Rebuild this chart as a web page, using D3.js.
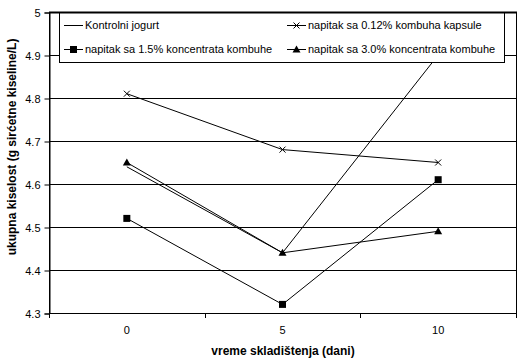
<!DOCTYPE html>
<html>
<head>
<meta charset="utf-8">
<script src="https://cdn.jsdelivr.net/npm/d3@7"></script>
<style>
  body { margin: 0; background: #fff; }
  text { font-family: "Liberation Sans", Arial, sans-serif; fill: #000; }
</style>
</head>
<body>
<svg id="chart" width="526" height="363"></svg>
<script>
// categories (storage days)
const days = ["0", "5", "10"];
const yTicks = [4.3, 4.4, 4.5, 4.6, 4.7, 4.8, 4.9, 5];

// series values
const kontrolni = [4.64, 4.44, 4.9];
const kapsule012 = [4.81, 4.68, 4.65];
const konc15 = [4.52, 4.32, 4.61];
const konc30 = [4.65, 4.44, 4.49];

const series = [
  { name: "Kontrolni jogurt", values: kontrolni, marker: "none" },
  { name: "napitak sa 0.12% kombuha kapsule", values: kapsule012, marker: "x" },
  { name: "napitak sa 1.5% koncentrata kombuhe", values: konc15, marker: "square" },
  { name: "napitak sa 3.0% koncentrata kombuhe", values: konc30, marker: "triangle" }
];

const svg = d3.select("#chart");
const pLeft = 49, pRight = 516, pTop = 12, pBottom = 313;

const x = d3.scaleBand().domain(days).range([pLeft, pRight]);
const y = d3.scaleLinear().domain([4.3, 5]).range([pBottom, pTop]);
const cx = d => x(d) + x.bandwidth() / 2;

// gridlines
svg.append("g")
  .selectAll("line")
  .data(yTicks)
  .join("line")
    .attr("x1", pLeft).attr("x2", pRight)
    .attr("y1", d => Math.round(y(d)) + 0.5).attr("y2", d => Math.round(y(d)) + 0.5)
    .attr("stroke", "#000");

// plot frame
svg.append("rect")
  .attr("x", pLeft + 0.5).attr("y", pTop + 0.5)
  .attr("width", pRight - pLeft).attr("height", pBottom - pTop)
  .attr("fill", "none").attr("stroke", "#000");

// y axis
const yAxis = svg.append("g")
  .attr("transform", `translate(${pLeft + 0.5},0.5)`)
  .call(d3.axisLeft(y).tickValues(yTicks).tickSize(5).tickPadding(4).tickFormat(d3.format("")));
yAxis.select(".domain").attr("stroke", "#000");
yAxis.selectAll("line").attr("stroke", "#000");
yAxis.selectAll("text").attr("font-size", 11).attr("fill", "#000").attr("font-family", "Liberation Sans, Arial, sans-serif");

// x axis: ticks at band edges, labels at centres
const edges = days.map(d => x(d)).concat([pRight]);
svg.append("g")
  .selectAll("line")
  .data(edges)
  .join("line")
    .attr("x1", d => Math.round(d) + 0.5).attr("x2", d => Math.round(d) + 0.5)
    .attr("y1", pBottom).attr("y2", pBottom + 5)
    .attr("stroke", "#000");
svg.append("g")
  .selectAll("text")
  .data(days)
  .join("text")
    .attr("x", d => cx(d))
    .attr("y", 334)
    .attr("text-anchor", "middle")
    .attr("font-size", 11)
    .text(d => d);

// axis titles
svg.append("text")
  .attr("x", 283).attr("y", 355)
  .attr("text-anchor", "middle")
  .attr("font-size", 12).attr("font-weight", "bold")
  .text("vreme skladištenja (dani)");

svg.append("text")
  .attr("transform", "translate(16,147) rotate(-90)")
  .attr("text-anchor", "middle")
  .attr("font-size", 12).attr("font-weight", "bold")
  .text("ukupna kiselost (g sirćetne kiseline/L)");

// lines
const line = d3.line().x((v, i) => cx(days[i])).y(v => y(v));

svg.append("g")
  .selectAll("path")
  .data(series)
  .join("path")
    .attr("d", s => line(s.values))
    .attr("fill", "none")
    .attr("stroke", "#000")
    .attr("stroke-width", 1);

function drawMarker(g, type, px, py) {
  if (type === "square") {
    g.append("rect").attr("x", px - 3.5).attr("y", py - 3.5).attr("width", 7).attr("height", 7).attr("fill", "#000");
  } else if (type === "triangle") {
    g.append("path").attr("d", `M${px},${py - 4}L${px + 4},${py + 3}L${px - 4},${py + 3}Z`).attr("fill", "#000");
  } else if (type === "x") {
    g.append("path").attr("d", `M${px - 3},${py - 3}L${px + 3},${py + 3}M${px + 3},${py - 3}L${px - 3},${py + 3}`)
      .attr("stroke", "#000").attr("fill", "none");
  }
}

const markers = svg.append("g");
series.forEach(s => {
  s.values.forEach((v, i) => drawMarker(markers, s.marker, cx(days[i]), y(v)));
});

// legend
const lg = svg.append("g");
lg.append("rect")
  .attr("x", 59.5).attr("y", pTop + 0.5)
  .attr("width", 445).attr("height", 50)
  .attr("fill", "#fff").attr("stroke", "#000");
// redraw top frame edge over legend
svg.append("line")
  .attr("x1", pLeft).attr("x2", pRight + 1)
  .attr("y1", pTop + 0.5).attr("y2", pTop + 0.5)
  .attr("stroke", "#000").attr("stroke-width", 2);

const legendPos = [[64, 25], [287, 25], [64, 49], [287, 49]];
series.forEach((s, k) => {
  const [lx, ly] = legendPos[k];
  lg.append("line")
    .attr("x1", lx).attr("x2", lx + 19)
    .attr("y1", ly + 0.5).attr("y2", ly + 0.5)
    .attr("stroke", "#000");
  drawMarker(lg, s.marker, lx + 9.5, ly + 0.5);
  lg.append("text")
    .attr("x", lx + 21).attr("y", ly + 4)
    .attr("font-size", 11)
    .text(s.name);
});
</script>
</body>
</html>
